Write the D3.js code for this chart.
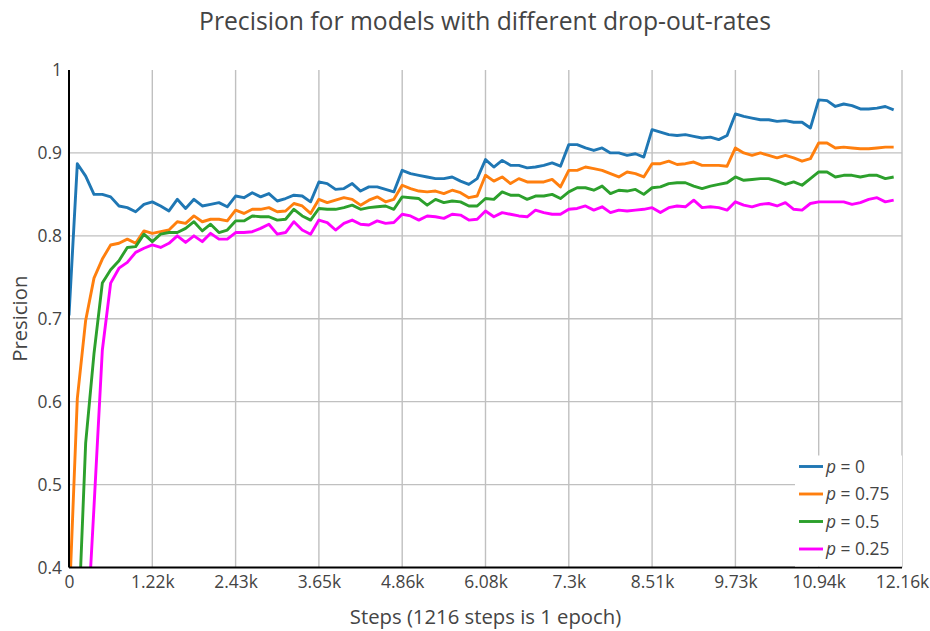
<!DOCTYPE html>
<html>
<head>
  <meta charset="utf-8">
  <title>Precision for models with different drop-out-rates</title>
  <script src="https://d3js.org/d3.v7.min.js"></script>
  <style>
    body { margin: 0; background: white; }
    text { font-family: "Open Sans", "Noto Sans", sans-serif; fill: #444; }
  </style>
</head>
<body>
<div id="output"></div>

<script type="text/javascript">

  // evaluation every 121.6 steps (10 points per epoch of 1216 steps)
  var steps = d3.range(0, 100).map(function(i){ return i * 121.6 });

  var p0 = [0.704,0.887,0.872,0.850,0.850,0.847,0.836,0.834,0.829,0.838,
    0.841,0.836,0.830,0.844,0.833,0.844,0.836,0.838,0.840,0.835,
    0.848,0.846,0.852,0.847,0.851,0.842,0.845,0.849,0.848,0.841,
    0.865,0.863,0.856,0.857,0.863,0.854,0.859,0.859,0.856,0.853,
    0.879,0.875,0.873,0.871,0.869,0.869,0.871,0.866,0.862,0.869,
    0.892,0.883,0.891,0.885,0.885,0.882,0.883,0.885,0.888,0.884,
    0.910,0.910,0.906,0.903,0.906,0.900,0.900,0.897,0.899,0.895,
    0.928,0.925,0.922,0.921,0.922,0.920,0.918,0.919,0.916,0.921,
    0.947,0.944,0.942,0.940,0.940,0.938,0.939,0.937,0.937,0.930,
    0.964,0.963,0.956,0.959,0.957,0.953,0.953,0.954,0.956,0.952];

  var p075 = [0.350,0.604,0.698,0.749,0.772,0.789,0.791,0.796,0.791,0.806,
    0.803,0.805,0.807,0.817,0.815,0.824,0.817,0.820,0.820,0.818,
    0.831,0.827,0.832,0.832,0.834,0.829,0.830,0.839,0.836,0.827,
    0.844,0.840,0.843,0.846,0.844,0.837,0.843,0.847,0.841,0.844,
    0.861,0.857,0.854,0.853,0.854,0.851,0.855,0.852,0.846,0.848,
    0.873,0.866,0.871,0.863,0.869,0.865,0.865,0.865,0.868,0.859,
    0.879,0.879,0.883,0.881,0.879,0.875,0.871,0.877,0.875,0.871,
    0.887,0.887,0.890,0.886,0.887,0.889,0.885,0.885,0.885,0.884,
    0.906,0.900,0.897,0.900,0.897,0.894,0.897,0.894,0.890,0.893,
    0.912,0.912,0.906,0.907,0.906,0.905,0.905,0.906,0.907,0.907];

  var p05 = [0.100,0.300,0.550,0.658,0.743,0.759,0.770,0.786,0.787,0.802,
    0.793,0.802,0.804,0.804,0.809,0.817,0.806,0.814,0.804,0.807,
    0.818,0.818,0.824,0.823,0.823,0.819,0.820,0.832,0.824,0.819,
    0.833,0.832,0.832,0.834,0.837,0.832,0.834,0.835,0.836,0.832,
    0.847,0.846,0.845,0.837,0.844,0.840,0.842,0.841,0.836,0.836,
    0.845,0.844,0.853,0.849,0.849,0.844,0.848,0.848,0.850,0.845,
    0.853,0.858,0.858,0.855,0.860,0.851,0.855,0.854,0.856,0.850,
    0.858,0.859,0.863,0.864,0.864,0.860,0.857,0.860,0.862,0.864,
    0.871,0.867,0.868,0.869,0.869,0.866,0.862,0.865,0.861,0.869,
    0.877,0.877,0.871,0.873,0.873,0.871,0.873,0.873,0.869,0.871];

  var p025 = [0.100,0.200,0.290,0.473,0.662,0.743,0.761,0.768,0.780,0.785,
    0.789,0.786,0.791,0.800,0.792,0.800,0.793,0.803,0.796,0.796,
    0.804,0.804,0.805,0.809,0.814,0.802,0.804,0.817,0.807,0.802,
    0.819,0.816,0.807,0.815,0.819,0.814,0.813,0.818,0.815,0.816,
    0.826,0.824,0.819,0.824,0.823,0.821,0.826,0.825,0.819,0.820,
    0.830,0.823,0.828,0.826,0.824,0.823,0.831,0.828,0.826,0.826,
    0.832,0.833,0.836,0.831,0.835,0.828,0.831,0.830,0.831,0.832,
    0.834,0.828,0.834,0.836,0.835,0.843,0.834,0.835,0.834,0.831,
    0.841,0.837,0.835,0.838,0.839,0.836,0.840,0.832,0.831,0.839,
    0.841,0.841,0.841,0.841,0.838,0.840,0.844,0.846,0.841,0.843];

  var seriesNames = ["0", "0.75", "0.5", "0.25"];
  var seriesData = [p0, p075, p05, p025];
  var seriesColors = ["#1f77b4", "#ff7f0e", "#2ca02c", "#ff00ff"];

  var xTickVals = [0,1216,2432,3648,4864,6080,7296,8512,9728,10944,12160];
  var xTickLabels = ["0","1.22k","2.43k","3.65k","4.86k","6.08k","7.3k","8.51k","9.73k","10.94k","12.16k"];
  var yTickVals = [0.4,0.5,0.6,0.7,0.8,0.9,1];
  var yTickLabels = ["0.4","0.5","0.6","0.7","0.8","0.9","1"];

  var w = 930;
  var h = 631;
  var chartMargin = {top: 70, right: 28, bottom: 63.5, left: 69},
      wChart = w - chartMargin.left - chartMargin.right,
      hChart = h - chartMargin.top - chartMargin.bottom;

  var x = d3.scaleLinear()
          .domain([0, 12160])
          .range([0, wChart]);

  var y = d3.scaleLinear()
          .domain([0.4, 1])
          .range([hChart, 0]);

  var svg = d3.select("#output").append("svg")
          .attr("width", w)
          .attr("height", h);

  svg.append("defs").append("clipPath")
          .attr("id", "plotclip")
          .append("rect")
          .attr("x", 0).attr("y", 0)
          .attr("width", wChart).attr("height", hChart);

  var chart = svg.append("g")
          .attr("transform", "translate(" + chartMargin.left + "," + chartMargin.top + ")");

  // grid
  chart.append("g").selectAll("line.vgrid")
          .data(xTickVals.slice(1))
          .enter().append("line")
          .attr("class", "vgrid")
          .attr("x1", function(d){ return x(d) }).attr("x2", function(d){ return x(d) })
          .attr("y1", 0).attr("y2", hChart)
          .attr("stroke", "#c0c0c0").attr("stroke-width", 1.4);

  chart.append("g").selectAll("line.hgrid")
          .data(yTickVals.slice(1, -1))
          .enter().append("line")
          .attr("class", "hgrid")
          .attr("x1", 0).attr("x2", wChart)
          .attr("y1", function(d){ return y(d) }).attr("y2", function(d){ return y(d) })
          .attr("stroke", "#c0c0c0").attr("stroke-width", 1.4);

  // lines
  var line = d3.line()
          .x(function(d, i){ return x(steps[i]) })
          .y(function(d){ return y(d) });

  var lines = chart.append("g").attr("clip-path", "url(#plotclip)");
  seriesData.forEach(function(s, k){
    lines.append("path")
            .datum(s)
            .attr("d", line)
            .attr("fill", "none")
            .attr("stroke", seriesColors[k])
            .attr("stroke-width", 2.9)
            .attr("stroke-linejoin", "round");
  });

  // axes
  var xAxis = d3.axisBottom(x)
          .tickValues(xTickVals)
          .tickFormat(function(d, i){ return xTickLabels[i] })
          .tickSize(0)
          .tickPadding(8);

  var yAxis = d3.axisLeft(y)
          .tickValues(yTickVals)
          .tickFormat(function(d, i){ return yTickLabels[i] })
          .tickSize(0)
          .tickPadding(7);

  var gx = chart.append("g")
          .attr("transform", "translate(0," + hChart + ")")
          .call(xAxis);
  gx.select(".domain").remove();

  var gy = chart.append("g")
          .call(yAxis);
  gy.select(".domain").remove();

  chart.selectAll(".tick text")
          .style("font-family", "'Open Sans', sans-serif")
          .style("font-size", "17.4px")
          .attr("fill", "#444");

  chart.append("line")
          .attr("x1", 0).attr("x2", wChart)
          .attr("y1", hChart).attr("y2", hChart)
          .attr("stroke", "#000").attr("stroke-width", 2);
  chart.append("line")
          .attr("x1", 0).attr("x2", 0)
          .attr("y1", 0).attr("y2", hChart)
          .attr("stroke", "#000").attr("stroke-width", 2);

  // legend
  var legend = chart.append("g")
          .attr("transform", "translate(" + (wChart - 107) + "," + (hChart - 112) + ")");

  legend.append("rect")
          .attr("x", 0).attr("y", 0)
          .attr("width", 107).attr("height", 111)
          .attr("fill", "white");

  seriesNames.forEach(function(name, k){
    var row = legend.append("g")
            .attr("transform", "translate(0," + (11 + k * 27.5) + ")");
    row.append("line")
            .attr("x1", 4).attr("x2", 28)
            .attr("y1", 0).attr("y2", 0)
            .attr("stroke", seriesColors[k])
            .attr("stroke-width", 2.9);
    var t = row.append("text")
            .attr("x", 31)
            .attr("y", 6)
            .style("font-size", "17.4px")
            .style("fill", "#444");
    t.append("tspan").style("font-style", "italic").text("p");
    t.append("tspan").text(" = " + name);
  });

  // titles
  svg.append("text")
          .attr("x", 485)
          .attr("y", 30)
          .attr("text-anchor", "middle")
          .style("font-size", "24.7px")
          .text("Precision for models with different drop-out-rates");

  svg.append("text")
          .attr("x", chartMargin.left + wChart / 2)
          .attr("y", 624)
          .attr("text-anchor", "middle")
          .style("font-size", "20.3px")
          .text("Steps (1216 steps is 1 epoch)");

  svg.append("text")
          .attr("transform", "translate(27," + (chartMargin.top + hChart / 2) + ") rotate(-90)")
          .attr("text-anchor", "middle")
          .style("font-size", "20.3px")
          .text("Presicion");

</script>
</body>
</html>
